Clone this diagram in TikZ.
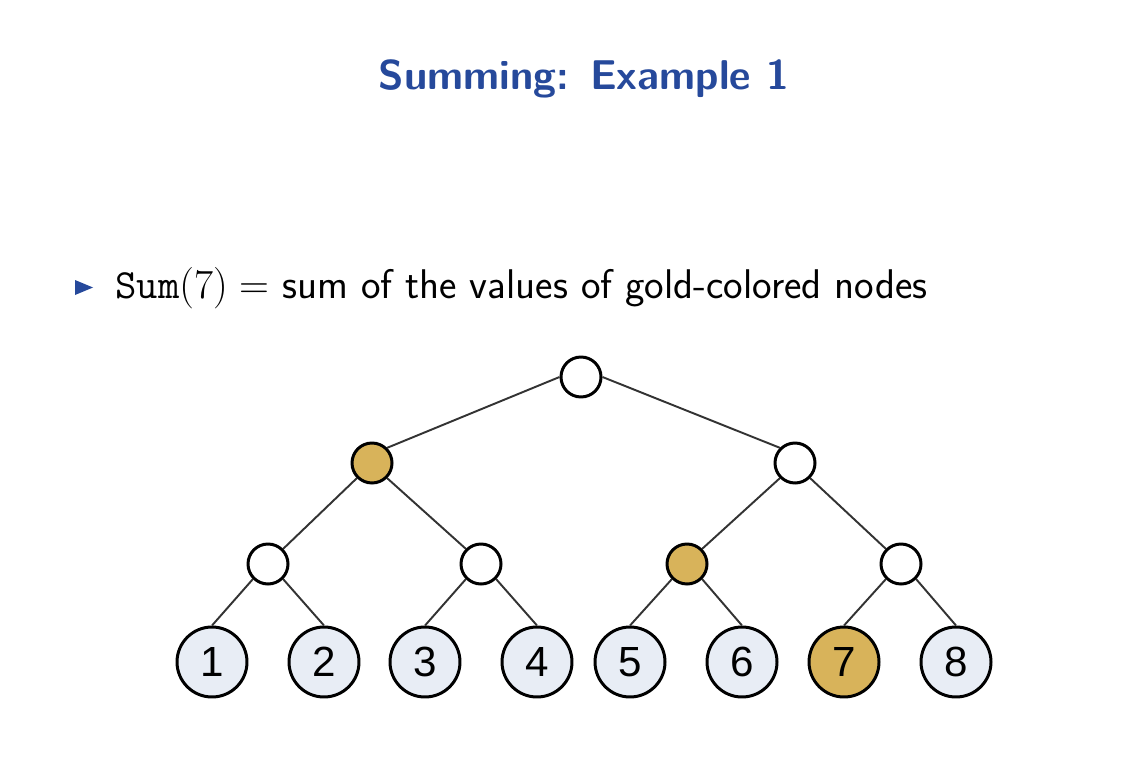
\RequirePackage{fix-cm}
\documentclass[tikz,border=0pt]{standalone}
\usepackage{fontspec}
\newfontfamily\digitfont{Liberation Sans}
\definecolor{titleblue}{RGB}{38,73,155}
\definecolor{gold}{RGB}{216,179,90}
\definecolor{leafgray}{RGB}{232,237,245}
\tikzset{
	inner/.style={circle, draw, line width=1.7pt, minimum size=0.8cm, inner sep=0pt, fill=white},
	leaf/.style={circle, draw, line width=1.7pt, minimum size=1.4cm, inner sep=0pt, fill=leafgray, font=\digitfont\fontsize{24}{24}\selectfont},
	marked/.style={fill=gold},
	edge/.style={black!80, line width=1.1pt}
}
\begin{document}
\begin{tikzpicture}[x=0.02cm, y=-0.02cm]
		\useasboundingbox (0,0) rectangle (1131,780);
		% title and bullet line
		\node[anchor=base, text=titleblue, font=\sffamily\bfseries\fontsize{23.7}{28}\selectfont] (title) at (584,90) {Summing:\hspace{0.5em}Example 1};
		\fill[titleblue] (75,280) -- (93,287.5) -- (75,295) -- cycle;
		\node[anchor=base west, inner sep=0pt, font=\sffamily\fontsize{23.6}{28}\selectfont] (sumline) at (115,298) {$\mathtt{Sum}(7) =$ sum of the values of gold-colored nodes};
		% tree
		\node[inner] (root) at (581,377) {};
		\node[inner, marked] (L) at (372,463) {};
		\node[inner] (R) at (795,463) {};
		\node[inner] (LL) at (268,564) {};
		\node[inner] (LR) at (481,564) {};
		\node[inner, marked] (RL) at (687,564) {};
		\node[inner] (RR) at (901,564) {};
		\node[leaf] (n1) at (212,662) {1};
		\node[leaf] (n2) at (324,662) {2};
		\node[leaf] (n3) at (425,662) {3};
		\node[leaf] (n4) at (537,662) {4};
		\node[leaf] (n5) at (630,662) {5};
		\node[leaf] (n6) at (742,662) {6};
		\node[leaf, marked] (n7) at (844,662) {7};
		\node[leaf] (n8) at (956,662) {8};
		\draw[edge] (root.west) -- (L.north east);
		\draw[edge] (root.east) -- (R.north west);
		\draw[edge] (L.south west) -- (LL.north east);
		\draw[edge] (L.south east) -- (LR.north west);
		\draw[edge] (R.south west) -- (RL.north east);
		\draw[edge] (R.south east) -- (RR.north west);
		\draw[edge] (LL.south west) -- (n1.north);
		\draw[edge] (LL.south east) -- (n2.north);
		\draw[edge] (LR.south west) -- (n3.north);
		\draw[edge] (LR.south east) -- (n4.north);
		\draw[edge] (RL.south west) -- (n5.north);
		\draw[edge] (RL.south east) -- (n6.north);
		\draw[edge] (RR.south west) -- (n7.north);
		\draw[edge] (RR.south east) -- (n8.north);
	\end{tikzpicture}
\end{document}
